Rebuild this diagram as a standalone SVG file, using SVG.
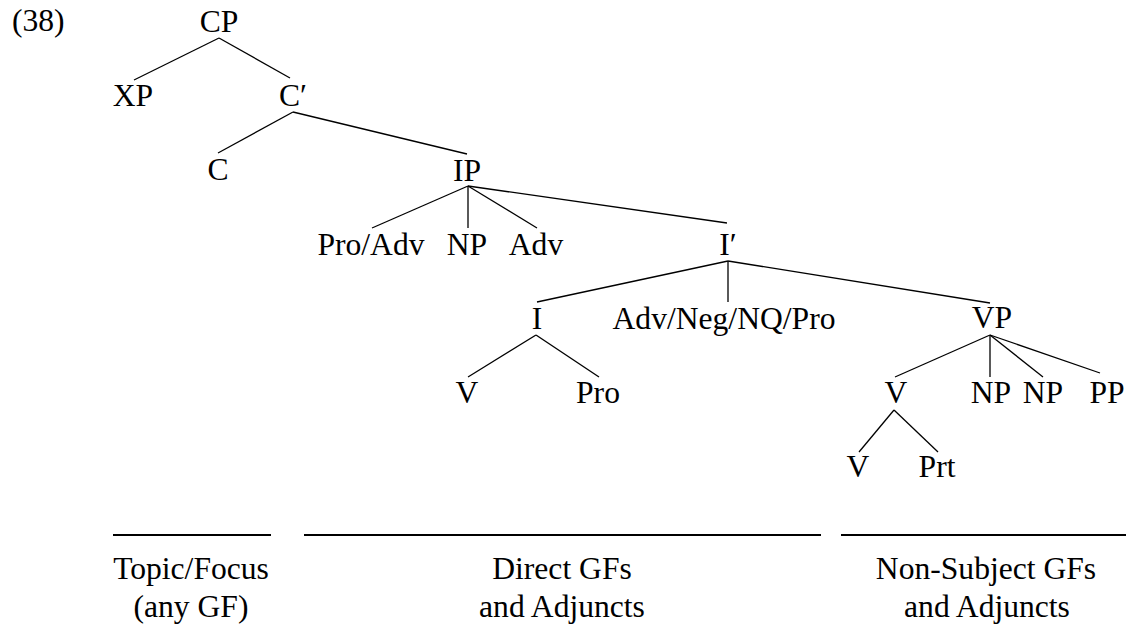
<svg xmlns="http://www.w3.org/2000/svg" width="1129" height="630" viewBox="0 0 1129 630">
<style>
text{font-family:'Liberation Serif','DejaVu Serif',serif;font-size:31.6px;fill:#000;text-anchor:middle}
.edges line{stroke:#000;stroke-width:1.3;fill:none}
.rules line{stroke:#000;stroke-width:2}
</style>
<rect width="1129" height="630" fill="#fff"/>
<g font-family="Liberation Serif, DejaVu Serif, serif">
<text x="12" y="31" style="text-anchor:start">(38)</text>
<g class="edges" id="connectors">
<line x1="219" y1="38" x2="134" y2="80"/>
<line x1="219" y1="38" x2="290" y2="78"/>
<line x1="293" y1="112" x2="218" y2="153"/>
<line x1="293" y1="112" x2="467" y2="154"/>
<line x1="468" y1="186" x2="372" y2="228"/>
<line x1="468" y1="186" x2="468" y2="228"/>
<line x1="468" y1="186" x2="537" y2="228"/>
<line x1="468" y1="186" x2="727" y2="223"/>
<line x1="728" y1="261" x2="537" y2="302"/>
<line x1="728" y1="261" x2="728" y2="302"/>
<line x1="728" y1="261" x2="990" y2="303"/>
<line x1="536" y1="335" x2="468" y2="377"/>
<line x1="536" y1="335" x2="599" y2="377"/>
<line x1="990" y1="335" x2="895" y2="377"/>
<line x1="990" y1="335" x2="990" y2="377"/>
<line x1="990" y1="335" x2="1043" y2="377"/>
<line x1="990" y1="335" x2="1100" y2="373"/>
<line x1="894" y1="410" x2="859" y2="452"/>
<line x1="894" y1="410" x2="938" y2="452"/>
</g>
<g id="n-CP"><text x="219" y="32">CP</text></g>
<g id="n-XP"><text x="133" y="106">XP</text></g>
<g id="n-Cbar"><text x="293" y="106">C′</text></g>
<g id="n-C"><text x="218" y="180">C</text></g>
<g id="n-IP"><text x="467" y="181">IP</text></g>
<g id="n-ProAdv"><text x="371" y="255">Pro/Adv</text></g>
<g id="n-NP1"><text x="467" y="255">NP</text></g>
<g id="n-Adv"><text x="536" y="255">Adv</text></g>
<g id="n-Ibar"><text x="728" y="255">I′</text></g>
<g id="n-I"><text x="537" y="329">I</text></g>
<g id="n-AdvNeg"><text x="724" y="329">Adv/Neg/NQ/Pro</text></g>
<g id="n-VP"><text x="992" y="328">VP</text></g>
<g id="n-V1"><text x="467" y="403">V</text></g>
<g id="n-Pro"><text x="598" y="403">Pro</text></g>
<g id="n-V2"><text x="896" y="403">V</text></g>
<g id="n-NP2"><text x="991" y="403">NP</text></g>
<g id="n-NP3"><text x="1043" y="403">NP</text></g>
<g id="n-PP"><text x="1107" y="403">PP</text></g>
<g id="n-V3"><text x="858" y="477">V</text></g>
<g id="n-Prt"><text x="937" y="477">Prt</text></g>
<g class="rules" id="rules">
<line x1="113" y1="535" x2="271" y2="535"/>
<line x1="304" y1="535" x2="821" y2="535"/>
<line x1="841" y1="535" x2="1126" y2="535"/>
</g>
<g id="l-topic"><text x="191" y="579">Topic/Focus</text><text x="191" y="617">(any GF)</text></g>
<g id="l-direct"><text x="562" y="579">Direct GFs</text><text x="562" y="617">and Adjuncts</text></g>
<g id="l-nonsubj"><text x="986" y="579">Non-Subject GFs</text><text x="987" y="617">and Adjuncts</text></g>
</g>
</svg>
